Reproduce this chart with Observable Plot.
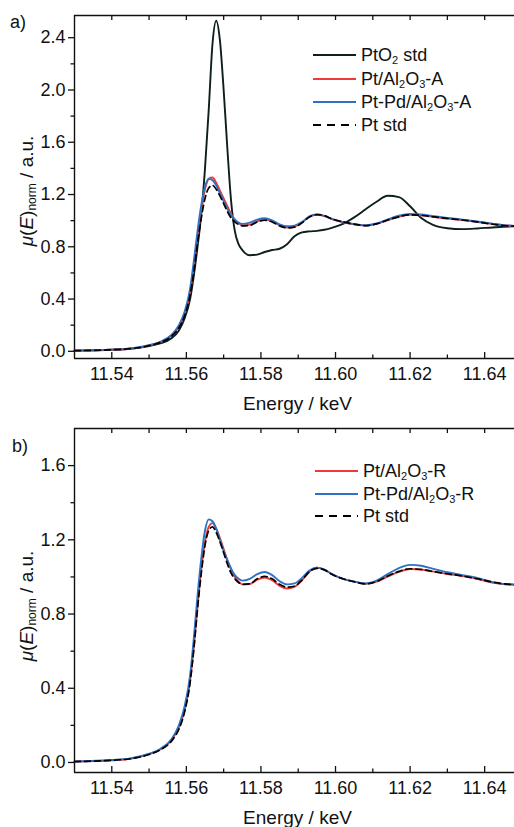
<!DOCTYPE html>
<html>
<head>
<meta charset="utf-8">
<script src="https://cdn.jsdelivr.net/npm/d3@7"></script>
<script src="https://cdn.jsdelivr.net/npm/@observablehq/plot@0.6"></script>
<style>
  html, body { margin: 0; padding: 0; background: #fff; }
  #root { position: relative; width: 514px; height: 827px; font-family: 'Liberation Sans', Arial, sans-serif; color: #111; overflow: hidden; }
  #root svg { display: block; }
  .abs { position: absolute; white-space: nowrap; font-size: 18px; line-height: 18px; }
  .lg { position: absolute; white-space: nowrap; font-size: 18px; line-height: 18px; transform: translateY(-50%); }
  .lg sub { font-size: 11px; line-height: 0; vertical-align: -3px; }
  .yl sub { font-size: 12px; line-height: 0; vertical-align: -3px; }
  .yl { position: absolute; white-space: nowrap; font-size: 19px; line-height: 19px; transform: translate(-50%, -50%) rotate(-90deg); }
  .xl { position: absolute; white-space: nowrap; font-size: 19px; line-height: 19px; transform: translate(-50%, -50%); }
</style>
</head>
<body>
<div id="root">
  <div id="pa" style="position:absolute;left:0;top:0;"></div>
  <div id="pb" style="position:absolute;left:0;top:415px;"></div>
</div>
<script>
// ---- data ----
const energy = [11.530, 11.540, 11.545, 11.550, 11.553, 11.556, 11.558, 11.5595, 11.561, 11.562,
  11.563, 11.564, 11.565, 11.566, 11.567, 11.568, 11.569, 11.570, 11.571, 11.572,
  11.573, 11.574, 11.575, 11.577, 11.579, 11.581, 11.583, 11.585, 11.587, 11.589,
  11.591, 11.593, 11.595, 11.597, 11.599, 11.602, 11.605, 11.608, 11.611, 11.614,
  11.617, 11.620, 11.623, 11.626, 11.630, 11.634, 11.638, 11.642, 11.645, 11.648];

const ptO2Std = [0.005, 0.012, 0.02, 0.04, 0.06, 0.10, 0.16, 0.25, 0.40, 0.58,
  0.80, 1.05, 1.40, 1.85, 2.35, 2.53, 2.38, 2.00, 1.55, 1.15,
  0.92, 0.82, 0.775, 0.735, 0.74, 0.76, 0.775, 0.785, 0.82, 0.88,
  0.91, 0.918, 0.922, 0.93, 0.945, 0.975, 1.025, 1.085, 1.145, 1.19,
  1.18, 1.11, 1.02, 0.97, 0.942, 0.935, 0.94, 0.948, 0.953, 0.957];

const ptAlA = [0.005, 0.012, 0.02, 0.045, 0.07, 0.12, 0.19, 0.28, 0.45, 0.65,
  0.88, 1.08, 1.24, 1.32, 1.33, 1.29, 1.23, 1.17, 1.11, 1.05,
  1.01, 0.98, 0.965, 0.97, 0.995, 1.01, 0.995, 0.965, 0.948, 0.955,
  0.985, 1.03, 1.045, 1.035, 1.012, 0.988, 0.972, 0.962, 0.975, 1.005,
  1.03, 1.045, 1.04, 1.03, 1.016, 1.005, 0.99, 0.975, 0.965, 0.96];

const ptPdAlA = [0.005, 0.013, 0.022, 0.047, 0.073, 0.125, 0.2, 0.3, 0.48, 0.69,
  0.92, 1.12, 1.26, 1.32, 1.31, 1.27, 1.21, 1.15, 1.09, 1.04,
  1.005, 0.985, 0.975, 0.985, 1.008, 1.018, 1.002, 0.972, 0.957, 0.962,
  0.99, 1.033, 1.048, 1.037, 1.013, 0.99, 0.973, 0.964, 0.978, 1.01,
  1.038, 1.052, 1.047, 1.035, 1.02, 1.008, 0.993, 0.977, 0.966, 0.96];

const ptStd = [0.005, 0.012, 0.02, 0.043, 0.068, 0.115, 0.18, 0.27, 0.43, 0.61,
  0.83, 1.02, 1.17, 1.25, 1.27, 1.24, 1.19, 1.13, 1.07, 1.02,
  0.99, 0.97, 0.96, 0.963, 0.99, 1.003, 0.99, 0.96, 0.945, 0.95,
  0.983, 1.028, 1.046, 1.038, 1.014, 0.99, 0.974, 0.962, 0.975, 1.005,
  1.03, 1.044, 1.04, 1.03, 1.017, 1.005, 0.99, 0.973, 0.963, 0.958];

const ptAlR = [0.005, 0.012, 0.02, 0.045, 0.07, 0.12, 0.19, 0.28, 0.44, 0.62,
  0.84, 1.04, 1.19, 1.27, 1.29, 1.26, 1.21, 1.15, 1.09, 1.04,
  1.0, 0.975, 0.96, 0.962, 0.985, 0.997, 0.982, 0.952, 0.938, 0.947,
  0.982, 1.028, 1.05, 1.04, 1.015, 0.99, 0.975, 0.963, 0.975, 1.002,
  1.027, 1.043, 1.04, 1.03, 1.016, 1.005, 0.99, 0.97, 0.962, 0.958];

const ptPdAlR = [0.005, 0.013, 0.022, 0.047, 0.073, 0.125, 0.2, 0.3, 0.47, 0.67,
  0.9, 1.1, 1.25, 1.31, 1.3, 1.26, 1.2, 1.14, 1.09, 1.045,
  1.01, 0.99, 0.98, 0.99, 1.015, 1.027, 1.01, 0.977, 0.96, 0.965,
  0.995, 1.035, 1.05, 1.04, 1.016, 0.99, 0.975, 0.965, 0.98, 1.015,
  1.048, 1.065, 1.06, 1.045, 1.025, 1.01, 0.995, 0.972, 0.962, 0.96];

const xTicks = [11.54, 11.56, 11.58, 11.60, 11.62, 11.64];
const xMinorTicks = [11.55, 11.57, 11.59, 11.61, 11.63];
const yTicksA = [0, 0.4, 0.8, 1.2, 1.6, 2.0, 2.4];
const yMinorA = [0.2, 0.6, 1.0, 1.4, 1.8, 2.2];
const yTicksB = [0, 0.4, 0.8, 1.2, 1.6];
const yMinorB = [0.2, 0.6, 1.0, 1.4];

const legendA = ["PtO<sub>2</sub> std", "Pt/Al<sub>2</sub>O<sub>3</sub>-A", "Pt-Pd/Al<sub>2</sub>O<sub>3</sub>-A", "Pt std"];
const legendB = ["Pt/Al<sub>2</sub>O<sub>3</sub>-R", "Pt-Pd/Al<sub>2</sub>O<sub>3</sub>-R", "Pt std"];

// ---- styles ----
const C_BLACK = "#0e1f1f", C_RED = "#f03a3a", C_BLUE = "#2d72c4", C_DASH = "#000";
const FONT = "'Liberation Sans', Arial, sans-serif";

function series(vals) { return energy.map((e, i) => ({e, v: vals[i]})); }

function panel({height, marginTop, marginBottom, yDomain, yTicks, yMinor, lines}) {
  const innerH = height - marginTop - marginBottom;
  const ax = {stroke: "#111", strokeWidth: 1.4};
  return Plot.plot({
    width: 514, height, marginLeft: 74, marginRight: 0, marginTop, marginBottom,
    style: {fontFamily: FONT, fontSize: "18px", color: "#111", background: "transparent", overflow: "visible"},
    x: {domain: [11.53, 11.648]},
    y: {domain: yDomain},
    marks: [
      ...lines.map(l => Plot.line(series(l.vals), {x: "e", y: "v", stroke: l.color, strokeWidth: l.w,
        strokeDasharray: l.dash, curve: "monotone-x"})),
      Plot.ruleX([11.53], ax),
      Plot.ruleY([yDomain[0]], ax),
      Plot.ruleY([yDomain[1]], ax),
      Plot.axisY({ticks: yTicks, tickSize: 6, tickPadding: 3, tickFormat: d3.format(".1f"), label: null, strokeWidth: 1.3}),
      Plot.axisY({ticks: yMinor, tickSize: 3.5, tickFormat: () => "", label: null, strokeWidth: 1.3}),
      Plot.axisX({ticks: xTicks, tickSize: 0, tickPadding: 9, tickFormat: d3.format(".2f"), label: null}),
      Plot.tickX(xTicks, {x: d => d, insetTop: innerH - 6, stroke: "#111", strokeWidth: 1.3}),
      Plot.tickX(xMinorTicks, {x: d => d, insetTop: innerH - 3.5, stroke: "#111", strokeWidth: 1.3}),
      Plot.tickX([...xTicks, ...xMinorTicks], {x: d => d, insetBottom: innerH - 5, stroke: "#111", strokeWidth: 1.3})
    ]
  });
}

document.getElementById("pa").appendChild(panel({
  height: 415, marginTop: 15, marginBottom: 57, yDomain: [-0.055, 2.57], yTicks: yTicksA, yMinor: yMinorA,
  lines: [
    {vals: ptO2Std, color: C_BLACK, w: 1.9},
    {vals: ptAlA, color: C_RED, w: 1.9},
    {vals: ptPdAlA, color: C_BLUE, w: 1.9},
    {vals: ptStd, color: C_DASH, w: 1.7, dash: "6,4"}
  ]
}));

document.getElementById("pb").appendChild(panel({
  height: 412, marginTop: 13, marginBottom: 55, yDomain: [-0.054, 1.80], yTicks: yTicksB, yMinor: yMinorB,
  lines: [
    {vals: ptAlR, color: C_RED, w: 1.9},
    {vals: ptPdAlR, color: C_BLUE, w: 1.9},
    {vals: ptStd, color: C_DASH, w: 1.7, dash: "6,4"}
  ]
}));

// ---- annotations (HTML text) ----
const root = document.getElementById("root");
function addDiv(cls, html, left, top) {
  const d = document.createElement("div");
  d.className = cls; d.innerHTML = html;
  d.style.left = left + "px"; d.style.top = top + "px";
  root.appendChild(d); return d;
}
function addSwatch(x1, x2, y, color, dash) {
  const ns = "http://www.w3.org/2000/svg";
  const s = document.createElementNS(ns, "svg");
  s.setAttribute("width", x2 - x1); s.setAttribute("height", 6);
  s.style.position = "absolute"; s.style.left = x1 + "px"; s.style.top = (y - 3) + "px";
  const l = document.createElementNS(ns, "line");
  l.setAttribute("x1", 0); l.setAttribute("x2", x2 - x1); l.setAttribute("y1", 3); l.setAttribute("y2", 3);
  l.setAttribute("stroke", color); l.setAttribute("stroke-width", 1.9);
  if (dash) l.setAttribute("stroke-dasharray", dash);
  s.appendChild(l); root.appendChild(s);
}

addDiv("abs", "a)", 10, 13);
addDiv("abs", "b)", 12, 437);

const colorsA = [[C_BLACK], [C_RED], [C_BLUE], [C_DASH, "8,6"]];
const rowsA = [55, 79, 102, 125];
legendA.forEach((t, i) => {
  addSwatch(313, 356, rowsA[i], colorsA[i][0], colorsA[i][1]);
  addDiv("lg", t, 361, rowsA[i]);
});
const colorsB = [[C_RED], [C_BLUE], [C_DASH, "8,6"]];
const rowsB = [471, 494, 516];
legendB.forEach((t, i) => {
  addSwatch(315, 358, rowsB[i], colorsB[i][0], colorsB[i][1]);
  addDiv("lg", t, 363, rowsB[i]);
});

addDiv("xl", "Energy / keV", 297.5, 403);
addDiv("xl", "Energy / keV", 297.5, 817);
const yLabel = "<i>&mu;</i>(<i>E</i>)<sub>norm</sub> / a.u.";
addDiv("yl", yLabel, 26, 191);
addDiv("yl", yLabel, 26, 606);
</script>
</body>
</html>
